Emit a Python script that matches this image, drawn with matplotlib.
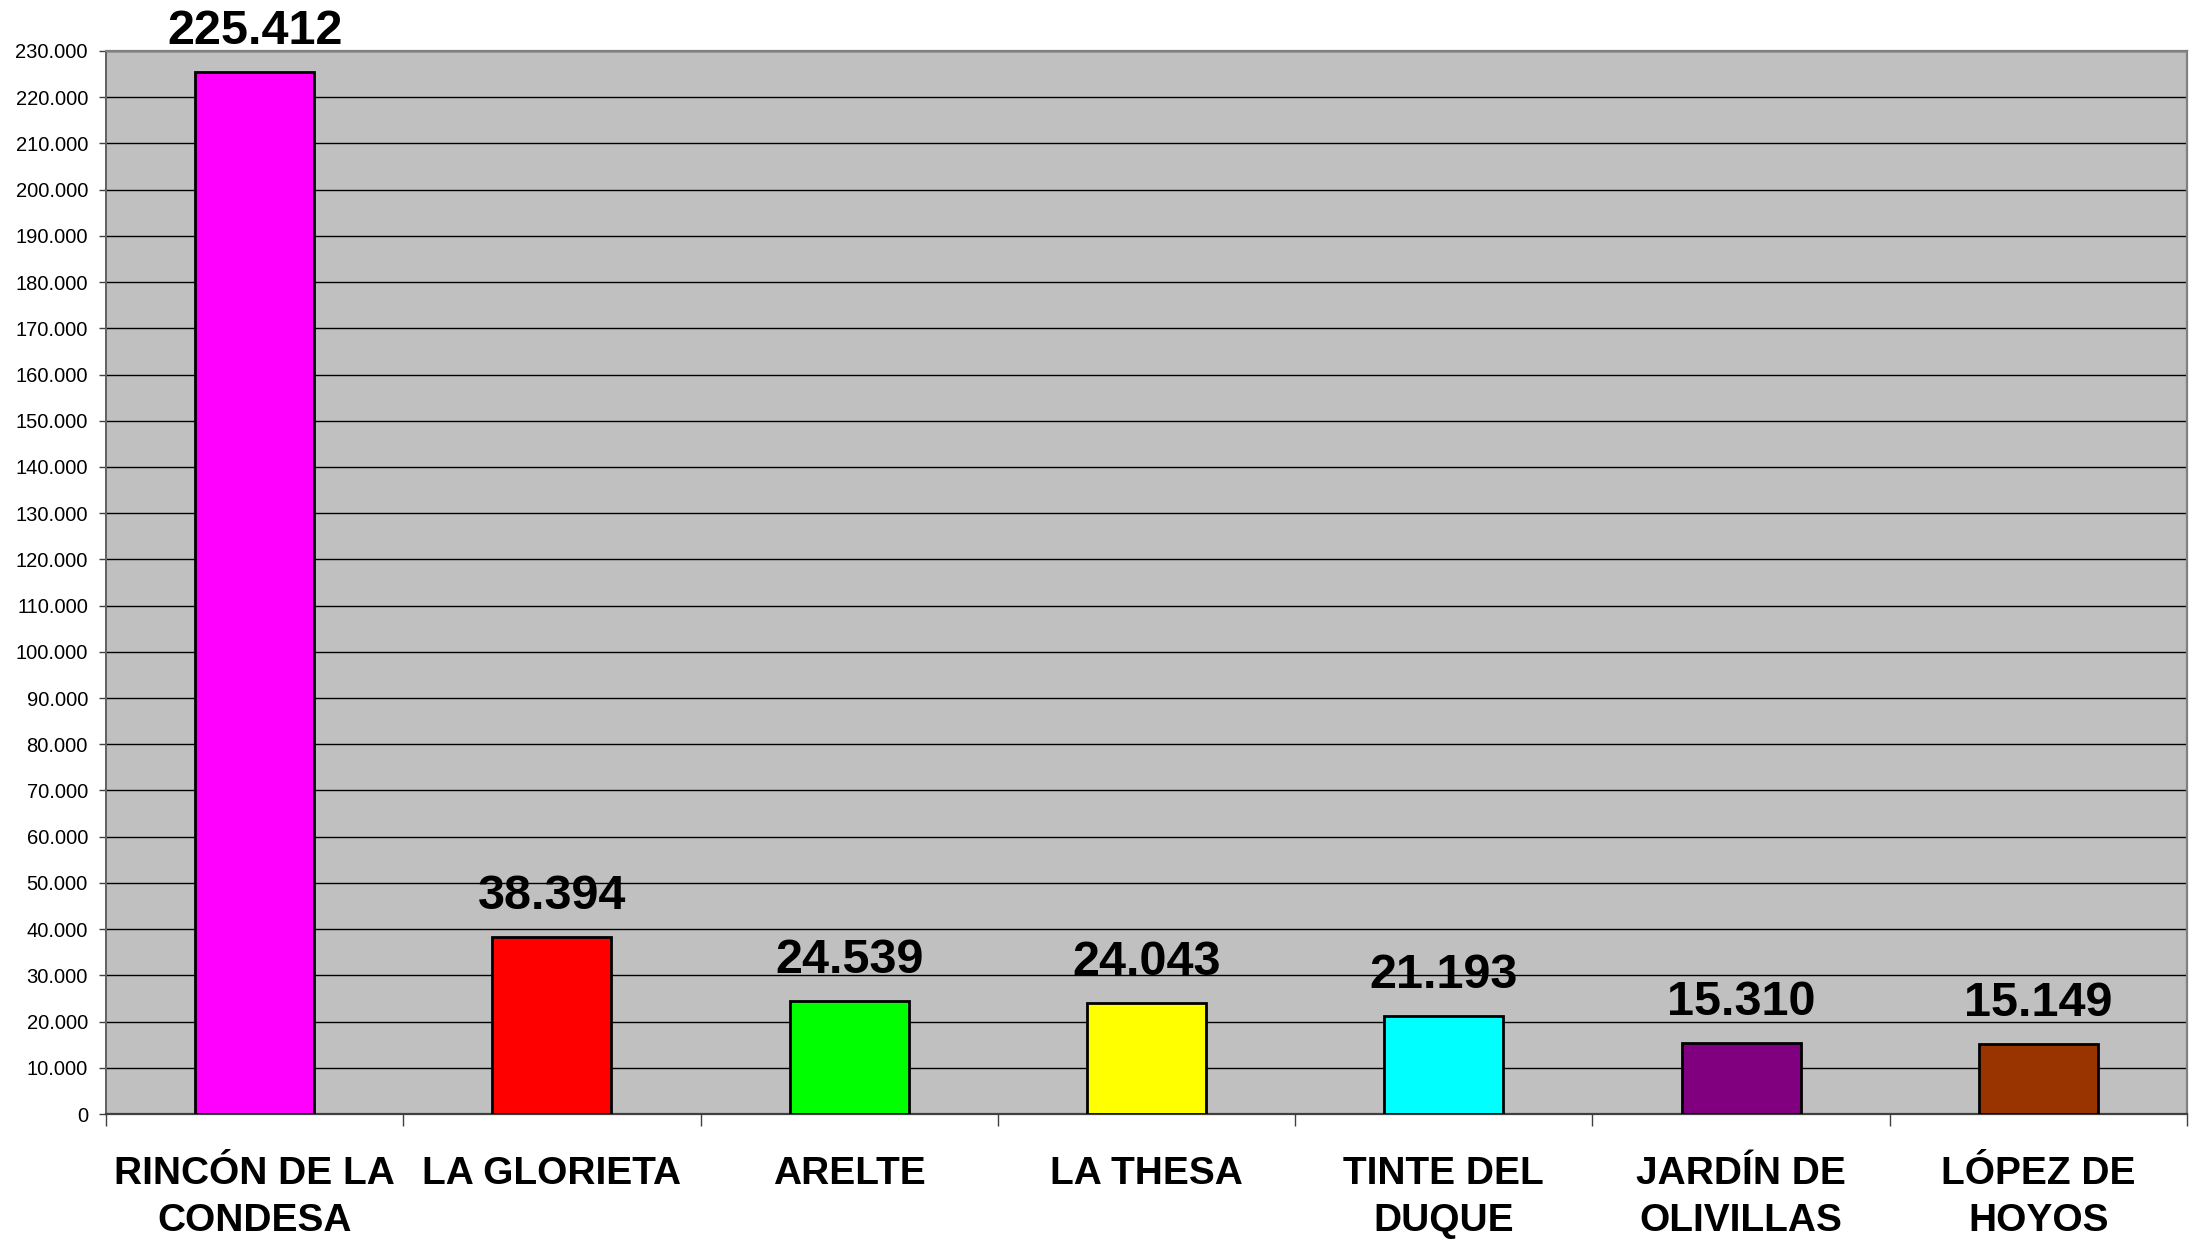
import matplotlib
matplotlib.use("Agg")
import matplotlib.pyplot as plt
from matplotlib.ticker import FuncFormatter, MultipleLocator, FixedLocator

plt.rcParams['font.family'] = ['Liberation Sans', 'DejaVu Sans']

categories = ["RINCÓN DE LA\nCONDESA", "LA GLORIETA", "ARELTE", "LA THESA",
              "TINTE DEL\nDUQUE", "JARDÍN DE\nOLIVILLAS", "LÓPEZ DE\nHOYOS"]
values = [225412, 38394, 24539, 24043, 21193, 15310, 15149]
value_labels = ["225.412", "38.394", "24.539", "24.043", "21.193", "15.310", "15.149"]
colors = ["#FF00FF", "#FF0000", "#00FF00", "#FFFF00", "#00FFFF", "#800080", "#993300"]

fig = plt.figure(figsize=(21.92, 12.42), dpi=100)
ax = fig.add_axes([106/2192, 1 - 1114/1242, (2187-106)/2192, (1114-51)/1242])
ax.set_facecolor("#C0C0C0")

x = list(range(len(categories)))
bars = ax.bar(x, values, width=0.4, color=colors, edgecolor="black", linewidth=2.0, zorder=3)

for xi, v, lab in zip(x, values, value_labels):
    ax.annotate(lab, (xi, v), xytext=(0, 20), textcoords="offset points",
                ha="center", va="baseline", fontsize=35, fontweight="bold", color="black",
                zorder=4)

ax.set_xlim(-0.5, len(categories) - 0.5)
ax.set_ylim(0, 230000)
ax.yaxis.set_major_locator(MultipleLocator(10000))
ax.yaxis.set_major_formatter(FuncFormatter(lambda v, p: f"{int(v):,}".replace(",", ".")))
ax.yaxis.grid(True, color="black", linewidth=1.0, zorder=1)
ax.set_axisbelow(True)

ax.xaxis.set_major_locator(FixedLocator([i - 0.5 for i in range(len(categories) + 1)]))
ax.xaxis.set_major_formatter(FuncFormatter(lambda v, p: ""))
ax.xaxis.set_minor_locator(FixedLocator(x))
ax.set_xticklabels(categories, minor=True)
ax.tick_params(axis="x", which="major", length=8.5, width=1.0, color="#404040", direction="out")
ax.tick_params(axis="x", which="minor", length=0, pad=30, labelsize=28)
for t in ax.get_xticklabels(minor=True):
    t.set_fontweight("bold")
    t.set_linespacing(1.4)
ax.tick_params(axis="y", length=5, width=1.0, color="#404040", pad=8, labelsize=14.5)

for side in ["top", "right"]:
    ax.spines[side].set_color("#808080")
    ax.spines[side].set_linewidth(1.6)
ax.spines["left"].set_color("#606060")
ax.spines["left"].set_linewidth(1.4)
ax.spines["bottom"].set_color("#404040")
ax.spines["bottom"].set_linewidth(1.6)

fig.savefig("out.png", dpi=100, facecolor="white")
